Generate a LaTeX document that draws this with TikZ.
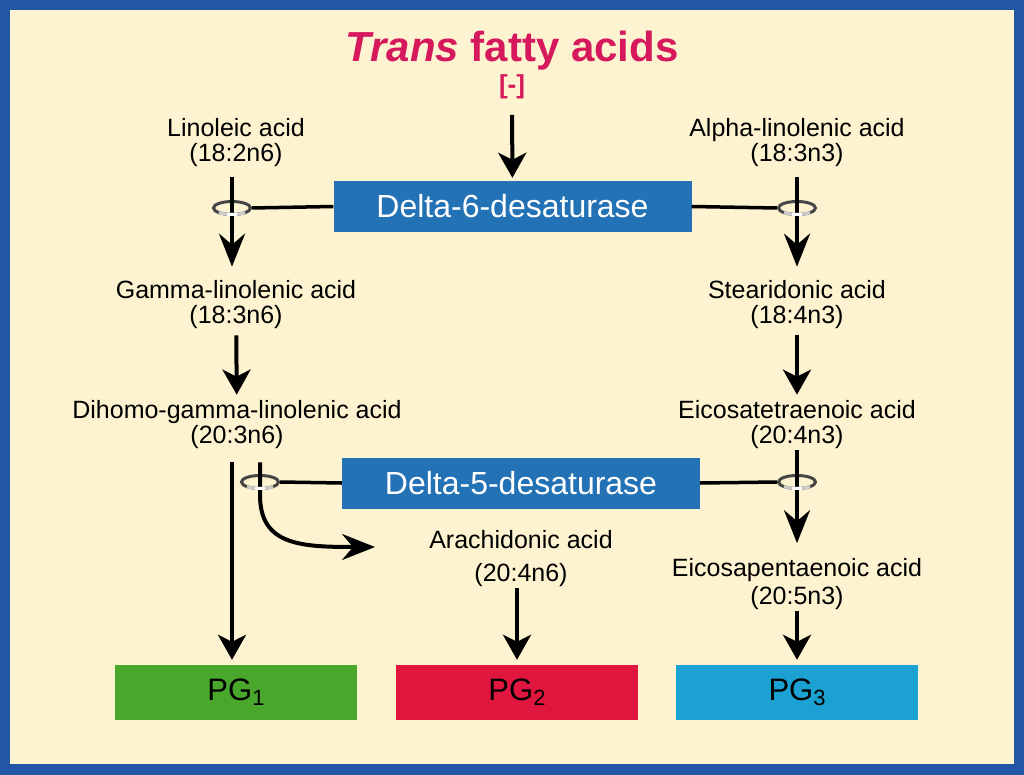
\documentclass[tikz,border=0pt]{standalone}
\usepackage{fontspec}
\setmainfont{Liberation Sans}
\usetikzlibrary{arrows.meta, shapes.geometric}
\definecolor{frameblue}{RGB}{35,86,165}
\definecolor{paper}{RGB}{253,243,208}
\definecolor{enzblue}{RGB}{35,114,182}
\definecolor{transred}{RGB}{214,24,92}
\definecolor{pggreen}{RGB}{73,168,43}
\definecolor{pgred}{RGB}{225,22,63}
\definecolor{pgcyan}{RGB}{28,162,210}

\tikzset{
    acid/.style={align=center, inner sep=0pt, font=\fontsize{25}{25}\selectfont},
    enzyme/.style={fill=enzblue, text=white, minimum width=358pt, minimum height=51pt, inner sep=0pt, font=\fontsize{32}{32}\selectfont},
    pgbox/.style={minimum width=242pt, minimum height=55pt, inner sep=0pt, font=\fontsize{31}{31}\selectfont},
    flow/.style={line width=4pt, -{Stealth[length=25pt, width=28pt, inset=7pt]}},
    conv/.style={line width=4pt, -{Stealth[length=33pt, width=26pt, inset=11pt]}},
    link/.style={line width=3.5pt},
    ring/.style={draw=gray!55!black, line width=3pt, shape=ellipse, minimum width=37pt, minimum height=13pt, inner sep=0pt},
}

\begin{document}
\begin{tikzpicture}[x=1pt, y=-1pt]

    \useasboundingbox (0,0) rectangle (1024,775);
    \fill[frameblue] (0,0) rectangle (1024,775);
    \fill[paper] (10,10) rectangle (1014,764);

    % title
    \node(title)[anchor=base, text=transred, font=\fontsize{42}{42}\selectfont\bfseries] at (512,62) {\textit{Trans} fatty acids};
    \node(inhib)[anchor=base, text=transred, font=\fontsize{26}{26}\selectfont\bfseries] at (512,94) {[-]};

    % enzymes
    \node(d6)[enzyme] at (512.5,206.5) {Delta-6-desaturase};
    \node(d5)[enzyme] at (521,483) {Delta-5-desaturase};

    % omega-6 side
    \node(lin)[acid] at (236,143) {Linoleic acid\\(18:2n6)};
    \node(gla)[acid] at (236,305) {Gamma-linolenic acid\\(18:3n6)};
    \node(dgla)[acid] at (237,425) {Dihomo-gamma-linolenic acid\\(20:3n6)};
    \node(ara)[acid, font=\fontsize{25}{33}\selectfont] at (521,559) {Arachidonic acid\\(20:4n6)};

    % omega-3 side
    \node(ala)[acid] at (797,143) {Alpha-linolenic acid\\(18:3n3)};
    \node(sda)[acid] at (797,305) {Stearidonic acid\\(18:4n3)};
    \node(eta)[acid] at (797,425) {Eicosatetraenoic acid\\(20:4n3)};
    \node(epa)[acid, font=\fontsize{25}{28}\selectfont] at (797,584) {Eicosapentaenoic acid\\(20:5n3)};

    % prostaglandins
    \node(pg1)[pgbox, fill=pggreen] at (236,692.5) {PG\raisebox{-5pt}{\fontsize{22}{22}\selectfont 1}};
    \node(pg2)[pgbox, fill=pgred] at (517,692.5) {PG\raisebox{-5pt}{\fontsize{22}{22}\selectfont 2}};
    \node(pg3)[pgbox, fill=pgcyan] at (797,692.5) {PG\raisebox{-5pt}{\fontsize{22}{22}\selectfont 3}};

    % rings
    \node(r1)[ring] at (232,208) {};
    \node(r2)[ring] at (797,208) {};
    \node(r3)[ring] at (260,482) {};
    \node(r4)[ring] at (797,482) {};
    \coordinate(bend) at (375,547);

    \draw[link] (d6.west) -- (r1.east);
    \draw[link] (d6.east) -- (r2.west);
    \draw[link] (d5.west) -- (r3.east);
    \draw[link] (d5.east) -- (r4.west);

    \draw[flow, shorten <=12pt, shorten >=3pt] (inhib) -- (d6);
    \draw[conv, shorten <=10pt, shorten >=14pt] (lin.south -| r1) -- (gla.north -| r1);
    \draw[conv, shorten <=10pt, shorten >=14pt] (ala) -- (sda);
    \draw[conv, shorten <=1pt, shorten >=15pt] (eta) -- (epa);
    \draw[flow, shorten <=13pt, shorten >=5pt] (dgla.south -| r1) -- (pg1.north -| r1);
    \draw[flow, shorten <=1pt, shorten >=5pt] (ara.south -| pg2) -- (pg2);

    \foreach \a/\b/\s/\e in {gla/dgla/6/6, sda/eta/6/6, epa/pg3/1/5}
    {
        \draw[flow, shorten <=\s pt, shorten >=\e pt] (\a) -- (\b);
    }

    \draw[conv, shorten <=13pt] (dgla.south -| r3) -- (260,495) .. controls (260,545) and (300,547) .. (bend);

    % front of the rings
    \foreach \r in {r1, r2, r3, r4}
    {
        \draw[line width=3pt, gray!40] (\r.center) ++(225:18.5pt and 6.5pt) arc[start angle=225, end angle=315, x radius=18.5pt, y radius=6.5pt];
        \draw[line width=3pt, white] (\r.center) ++(255:18.5pt and 6.5pt) arc[start angle=255, end angle=285, x radius=18.5pt, y radius=6.5pt];
    }

\end{tikzpicture}
\end{document}
